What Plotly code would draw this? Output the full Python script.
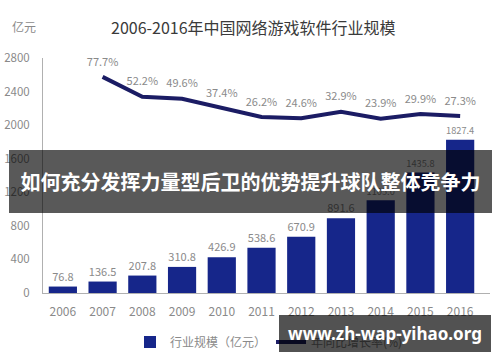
import plotly.graph_objects as go

years = ["2006", "2007", "2008", "2009", "2010", "2011", "2012", "2013", "2014", "2015", "2016"]
scale = [76.8, 136.5, 207.8, 310.8, 426.9, 538.6, 670.9, 891.6, 1105.0, 1435.8, 1827.4]
growth_years = years[1:]
growth = [77.7, 52.2, 49.6, 37.4, 26.2, 24.6, 32.9, 23.9, 29.9, 27.3]
y_ticks = [0, 400, 800, 1200, 1600, 2000, 2400, 2800]

FONT = "Noto Sans CJK SC"
GRAY = "#8a8a8a"

fig = go.Figure()
fig.add_trace(go.Bar(
    x=years, y=scale, name="行业规模（亿元）",
    marker=dict(color="#16268a", line=dict(width=0)),
    text=[f"{v:.1f}" for v in scale], textposition="outside",
    textfont=dict(color=GRAY, size=11, family=FONT),
    cliponaxis=False,
))
fig.add_trace(go.Scatter(
    x=growth_years, y=growth, name="年同比增长率(%)", yaxis="y2",
    mode="lines+markers+text", line=dict(color="#1b1c64", width=4),
    marker=dict(size=12, color="rgba(0,0,0,0)"),
    text=[f"{v}%" for v in growth], textposition="top center",
    textfont=dict(color=GRAY, size=11, family=FONT),
    cliponaxis=False,
))

W, H = 500, 362
L, R, T, B = 43, 10, 58, 69
pw, ph = W - L - R, H - T - B

def px(x):
    return (x - L) / pw

def py(y):
    return (H - B - y) / ph

fig.update_layout(
    width=W, height=H,
    margin=dict(l=L, r=R, t=T, b=B, autoexpand=False),
    plot_bgcolor="white", paper_bgcolor="white",
    font=dict(family=FONT, color=GRAY, size=12),
    bargap=0.29,
    showlegend=True,
    legend=dict(orientation="h", x=px(130), xanchor="left", y=py(342), yanchor="middle",
                font=dict(size=12, color=GRAY, family=FONT),
                bgcolor="rgba(0,0,0,0)"),
    xaxis=dict(showline=True, linecolor="#b0b0b0", linewidth=1, showgrid=False,
               ticks="", ticklabelstandoff=8, tickfont=dict(size=12, color=GRAY)),
    yaxis=dict(range=[0, 2800], tickvals=y_ticks, showline=True, linecolor="#b0b0b0",
               linewidth=1, showgrid=False, zeroline=False, ticks="",
               ticklabelstandoff=10, tickfont=dict(size=11.5, color=GRAY)),
    yaxis2=dict(overlaying="y", range=[-200.3, 102], visible=False),
    annotations=[
        dict(text="2006-2016年中国网络游戏软件行业规模", xref="paper", yref="paper",
             x=px(253), y=py(27), xanchor="center", yanchor="middle", showarrow=False,
             font=dict(size=16, color="#3a3a3a", family=FONT)),
        dict(text="亿元", xref="paper", yref="paper", x=px(24), y=py(27),
             xanchor="center", yanchor="middle", showarrow=False,
             font=dict(size=12, color=GRAY, family=FONT)),
        dict(text="<b>如何充分发挥力量型后卫的优势提升球队整体竞争力</b>", xref="paper", yref="paper",
             x=px(250.5), y=py(181.5), xanchor="center", yanchor="middle", showarrow=False,
             width=483, height=63, bgcolor="rgba(0,0,0,0.65)", borderpad=0, borderwidth=0,
             font=dict(size=20, color="white", family=FONT)),
        dict(text="<b>www.zh-wap-yihao.org</b>", xref="paper", yref="paper",
             x=px(385), y=py(333.5), xanchor="center", yanchor="middle", showarrow=False,
             width=212, height=37, bgcolor="rgba(0,0,0,0.68)", borderpad=0, borderwidth=0,
             font=dict(size=17, color="white", family="Noto Sans")),
    ],
)

fig.write_html("out.html", config={"displayModeBar": False},
               post_script="document.body.style.margin='0';")
